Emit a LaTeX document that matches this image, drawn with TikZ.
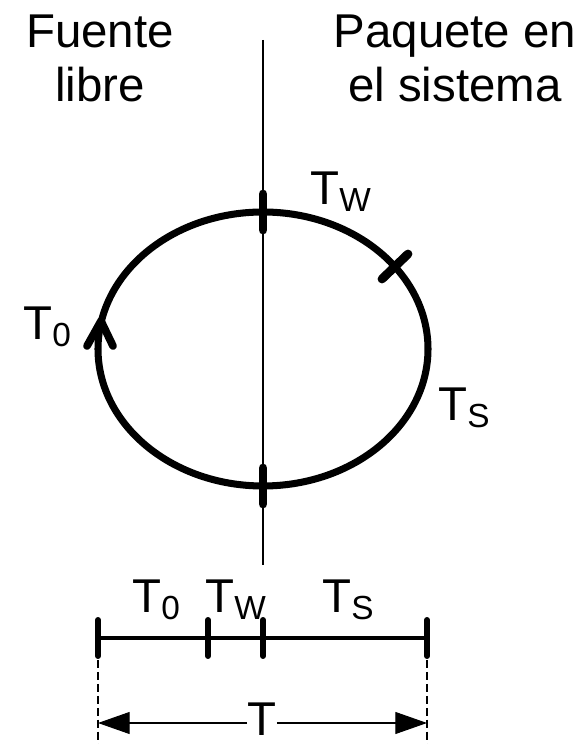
\documentclass[tikz,border=0pt]{standalone}
\usepackage{fontspec}
\setmainfont{Liberation Sans}
\usetikzlibrary{arrows.meta, calc}
\newcommand{\tsub}[1]{T\raisebox{-3.5pt}{\fontsize{19}{19}\selectfont #1}}

\begin{document}
\begin{tikzpicture}[
    x=0.02cm, y=0.02cm,
    every node/.style={font=\fontsize{27}{31}\selectfont, inner sep=0pt},
    ring/.style={line width=4pt, line cap=round, line join=round},
    ringtick/.style={line width=5pt, line cap=round},
    axis/.style={line width=2.8pt},
    axistick/.style={line width=3.4pt, line cap=round},
    hair/.style={line width=0.7pt},
    guide/.style={line width=0.6pt, dash pattern=on 4.5pt off 2.3pt},
    dimarrow/.style={line width=0.6pt, -{Triangle[length=18pt, width=12.5pt]}}
  ]
    \useasboundingbox (0,0) rectangle (578,744);

    % headings
    \node[align=center, anchor=base] (free) at (100,642) {Fuente\\libre};
    \node[align=center, anchor=base] (sys) at (455,642) {Paquete en\\el sistema};

    % dividing line
    \draw[hair] (263,704) -- (263,179);

    % cycle
    \draw[ring] (263,532) arc[start angle=90, end angle=270, x radius=165, y radius=137];
    \draw[ring] (263,532) arc[start angle=90, end angle=-90, x radius=165, y radius=137];
    \draw[ring, line width=4.4pt] (87,398) -- (101,423) -- (113,398);
    \draw[ringtick] (263,514) -- (263,550);
    \draw[ringtick] (263,240) -- (263,276);
    \draw[ringtick] (382,465) -- (408,490);

    \node[anchor=base west] (c0) at (23,404) {\tsub{0}};
    \node[anchor=base west] (cw) at (310,539) {\tsub{W}};
    \node[anchor=base west] (cs) at (438,323) {\tsub{S}};

    % time line
    \foreach \i/\x in {0/98,1/208,2/263,3/427}
      \coordinate (p\i) at (\x,106);
    \draw[axis] (p0) -- (p3);
    \foreach \i in {0,...,3}
      \draw[axistick] ($(p\i)+(0,-18)$) -- ($(p\i)+(0,18)$);

    \node[anchor=base west] (s0) at (132,131) {\tsub{0}};
    \node[anchor=base west] (sw) at (205,131) {\tsub{W}};
    \node[anchor=base west] (ss) at (322,131) {\tsub{S}};

    % total period
    \draw[guide] ($(p0)+(0,-22)$) -- (98,0);
    \draw[guide] ($(p3)+(0,-22)$) -- (427,0);
    \coordinate (dL) at (98,21);
    \coordinate (dR) at (427,21);
    \node[anchor=base] (dimT) at (262,9) {T};
    \draw[dimarrow] (dimT.west |- dL) -- (dL);
    \draw[dimarrow] (dimT.east |- dR) -- (dR);
\end{tikzpicture}
\end{document}
